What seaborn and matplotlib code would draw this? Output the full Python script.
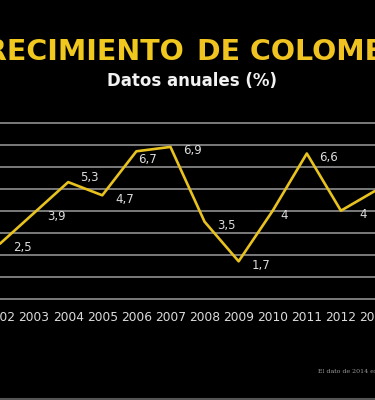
import matplotlib
matplotlib.use("Agg")
import matplotlib.pyplot as plt
import seaborn as sns
import pandas as pd

years = [2002, 2003, 2004, 2005, 2006, 2007, 2008, 2009, 2010, 2011, 2012, 2013]
growth = [2.5, 3.9, 5.3, 4.7, 6.7, 6.9, 3.5, 1.7, 4.0, 6.6, 4.0, 4.9]
value_labels = ["2,5", "3,9", "5,3", "4,7", "6,7", "6,9", "3,5", "1,7", "4", "6,6", "4", "4,9"]
title_left = "CRECIMIENTO"
title_right = "DE COLOMBIA"
subtitle = "Datos anuales (%)"
footnote = "El dato de 2014 está sujeto a revisión"

df = pd.DataFrame({"year": years, "growth": growth})

sns.set_style("dark")
plt.rcParams["font.family"] = ["DejaVu Sans"]

BG = "#000000"
YELLOW = "#e8c21e"
GRID = "#909090"
TEXT = "#dcdcdc"

fig = plt.figure(figsize=(3.75, 4.0), dpi=100, facecolor=BG)
W, H = 375.0, 400.0
ax = fig.add_axes([0, 1 - 305 / H, 1, 190 / H])
ax.set_facecolor(BG)

sns.lineplot(data=df, x="year", y="growth", ax=ax, color=YELLOW, linewidth=1.9)

ax.set_xlim(2002.003, 2002.003 + 375 / 34.8)
ax.set_ylim(-0.286, 8.35)
ax.set_yticks(range(0, 9))
ax.set_yticklabels([])
ax.grid(axis="y", color=GRID, linewidth=1.2)
ax.grid(axis="x", visible=False)
ax.set_axisbelow(True)
ax.set_xticks(years)
ax.set_xticklabels([str(y) for y in years], color=TEXT, fontsize=8.8)
ax.tick_params(axis="x", length=0, pad=4.5)
ax.tick_params(axis="y", length=0)
ax.set_xlabel("")
ax.set_ylabel("")
for s in ax.spines.values():
    s.set_visible(False)

# label offsets in pixels (dx right, dy down)
offsets = {2006: (11, 8), 2010: (11, 5), 2004: (21, -5)}
for yr, v, lab in zip(years, growth, value_labels):
    dx, dy = offsets.get(yr, (22, 4))
    ax.annotate(lab, xy=(yr, v), xytext=(dx * 0.72, -dy * 0.72), textcoords="offset points",
                ha="center", va="center", color=TEXT, fontsize=8.5)

# title
fig.text(184 / W, 1 - 52 / H, title_left, color="#f0c81e", fontsize=20.5,
         fontweight="bold", ha="right", va="center")
fig.text(197 / W, 1 - 52 / H, title_right, color="#f0c320", fontsize=20.5,
         fontweight="bold", ha="left", va="center")
fig.text(192 / W, 1 - 81 / H, subtitle, color="#f2f2f2", fontsize=12,
         fontweight="bold", ha="center", va="center")
fig.text(318 / W, 1 - 371 / H, footnote, color="#9a9a9a", fontsize=4.5,
         family="DejaVu Serif", ha="left", va="center")

fig.add_artist(plt.Line2D([0, 1], [1.0 / H, 1.0 / H], color="#555555", linewidth=1.5,
                          transform=fig.transFigure))

fig.savefig("out.png", dpi=100, facecolor=BG)
